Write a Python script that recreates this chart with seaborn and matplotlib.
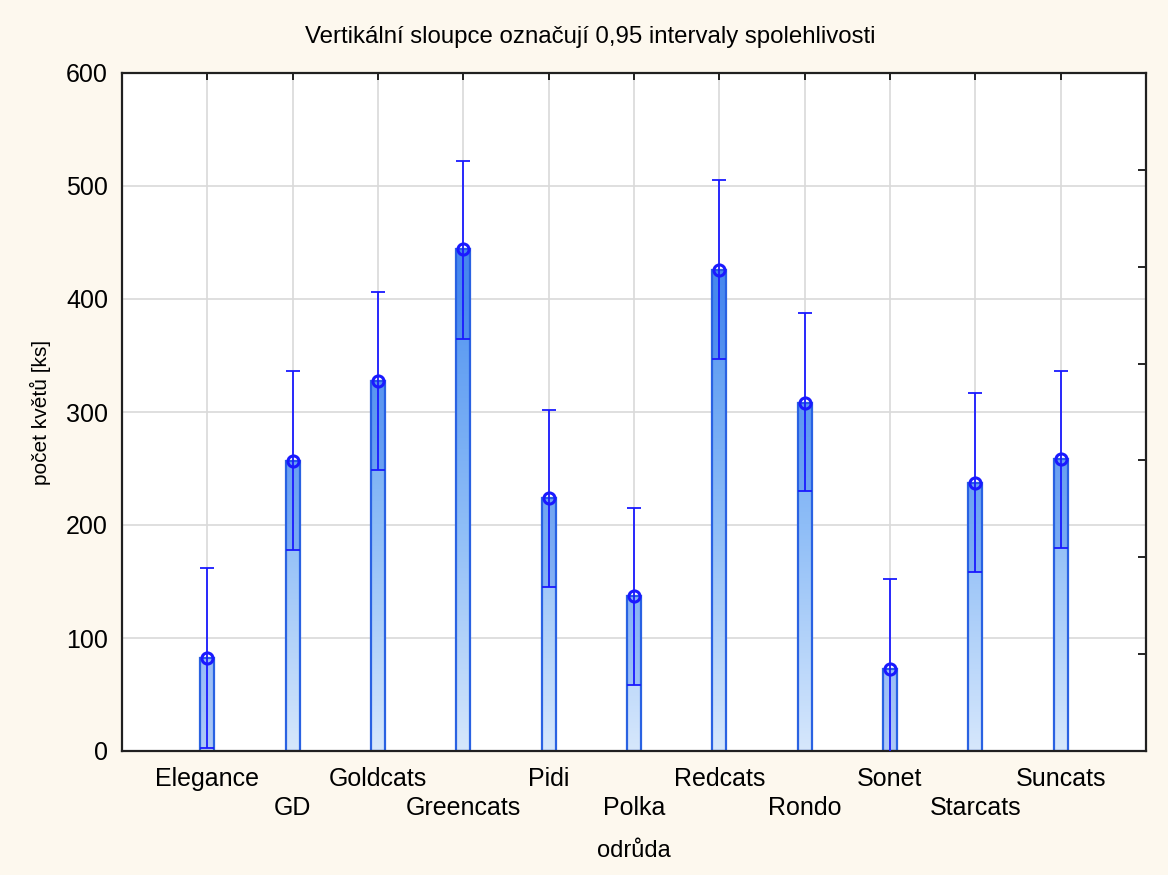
import numpy as np
import matplotlib.pyplot as plt
from matplotlib.colors import LinearSegmentedColormap
import pandas as pd
import seaborn as sns

odrudy = ["Elegance", "GD", "Goldcats", "Greencats", "Pidi", "Polka",
          "Redcats", "Rondo", "Sonet", "Starcats", "Suncats"]
prumer = [82, 257, 327, 444, 224, 137, 426, 308, 73, 237, 258]
dolni_mez = [3, 178, 249, 365, 145, 58, 347, 230, -6, 158, 180]
horni_mez = [162, 336, 406, 522, 302, 215, 505, 388, 152, 317, 336]

BG = "#fdf8ee"
EDGE = "#2a62e2"
LINE = "#1a1aff"

df = pd.DataFrame({"odruda": odrudy, "prumer": prumer})

sns.set_theme(style="white")
plt.rcParams["font.family"] = ["Liberation Sans", "DejaVu Sans"]
plt.rcParams["text.color"] = "black"

fig = plt.figure(figsize=(11.68, 8.75), dpi=100, facecolor=BG)
ax = fig.add_axes([122 / 1168, 1 - 751 / 875, (1146 - 122) / 1168, (751 - 73) / 875])
ax.set_facecolor("white")

sns.barplot(data=df, x="odruda", y="prumer", errorbar=None, width=0.165,
            color="#cfe3fb", edgecolor=EDGE, linewidth=1.6, ax=ax, zorder=2)

# gradient fill clipped to each bar (light at 0, darker upward)
cmap = LinearSegmentedColormap.from_list("grad", ["#d6e7fc", "#8ebdf7", "#5596f1", "#4586ef"])
grad = np.linspace(0, 1, 256).reshape(-1, 1)
for patch in ax.patches:
    im = ax.imshow(grad, cmap=cmap, origin="lower", aspect="auto",
                   extent=(-1, 11, 0, 600), zorder=2.1)
    im.set_clip_path(patch)
    patch.set_facecolor("none")
    patch.set_zorder(2.2)

# darker band between lower limit and mean
pos = np.arange(len(odrudy))
spodek = [max(d, 0) for d in dolni_mez]
vyska = [p - s for p, s in zip(prumer, spodek)]
ax.bar(pos, vyska, bottom=spodek, width=0.165, color="#1f5fe8", alpha=0.22,
       linewidth=0, zorder=2.3)

yerr = [np.array(prumer) - np.array(dolni_mez), np.array(horni_mez) - np.array(prumer)]
ax.errorbar(pos, prumer, yerr=yerr, fmt="none", ecolor=LINE, elinewidth=1.3,
            capsize=5, capthick=1.3, zorder=3)
ax.plot(pos, prumer, linestyle="none", marker="o", markersize=8,
        markerfacecolor="none", markeredgecolor=LINE, markeredgewidth=2.2, zorder=4)

ax.set_xlim(-1, 11)
ax.set_ylim(0, 600)
ax.set_yticks(range(0, 601, 100))

# staggered category labels: even on major ticks, odd on minor ticks lower down
ax.set_xticks(pos[::2])
ax.set_xticklabels(odrudy[::2], fontsize=18)
ax.set_xticks(pos[1::2], minor=True)
ax.set_xticklabels(odrudy[1::2], minor=True, fontsize=18)
ax.tick_params(axis="x", which="major", direction="in", length=5, width=1.2, pad=11.5,
               top=True, colors="black")
ax.tick_params(axis="x", which="minor", direction="in", length=5, width=1.2, pad=32.5,
               top=True, bottom=True, colors="black")
ax.tick_params(axis="y", labelsize=18, direction="in", length=5, width=1.2, pad=10,
               colors="black")
ax.grid(True, which="both", axis="x", color="#d9d9d9", linewidth=1.2, zorder=0)
ax.grid(True, which="major", axis="y", color="#d9d9d9", linewidth=1.2, zorder=0)
ax.set_axisbelow(True)
for s in ax.spines.values():
    s.set_color("#202020")
    s.set_linewidth(1.6)

sec = ax.secondary_yaxis("right")
sec.set_yticks(np.linspace(0, 600, 8))
sec.set_yticklabels([])
sec.tick_params(direction="in", length=6, width=1.2, colors="black")
sec.spines["right"].set_visible(False)

ax.set_xlabel("odrůda", fontsize=17, color="black")
ax.xaxis.set_label_coords(0.5, -0.132)
ax.set_ylabel("počet květů [ks]", fontsize=15, labelpad=11, color="black")
fig.text(0.505, 1 - 37 / 875, "Vertikální sloupce označují 0,95 intervaly spolehlivosti",
         ha="center", va="center", fontsize=17.3, color="black")

fig.savefig("out.png", dpi=100, facecolor=BG)
